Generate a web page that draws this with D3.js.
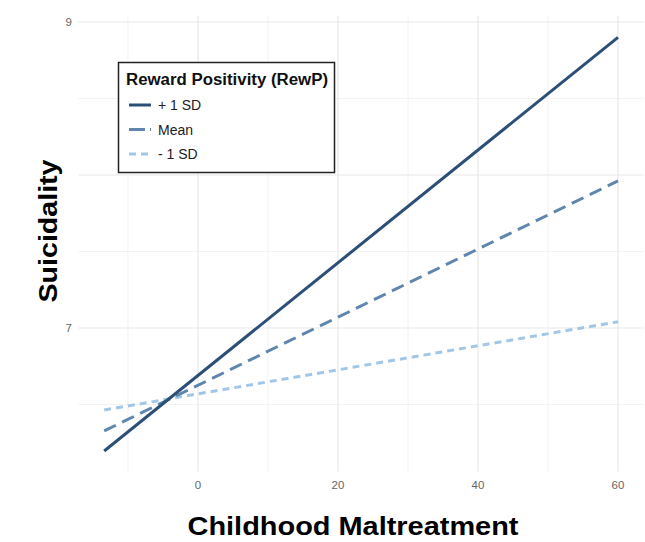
<!DOCTYPE html>
<html><head><meta charset="utf-8">
<script src="https://cdn.jsdelivr.net/npm/d3@7"></script>
<style>body{margin:0;background:#fff}svg{display:block}</style>
</head><body>
<script>
const xStart = [-13.4, -13.4, -13.4];
const xEnd = [60, 60, 60];
const seriesNames = ["+ 1 SD", "Mean", "- 1 SD"];
const yStart = [6.196, 6.327, 6.464];
const yEnd = [8.90, 7.961, 7.041];
const xTicks = [0, 20, 40, 60];
const xMinor = [-10, 10, 30, 50];
const yTicks = [7, 8, 9];
const yTickLabels = ["7", "", "9"];
const yMinor = [6.5, 7.5, 8.5];
const colors = ["#2c4f78", "#5f86ae", "#a2c7e6"];
const dashes = [null, "13,7", "7,5"];

const W = 645, H = 542;
const FONT = "Liberation Sans, Arial, sans-serif";
const svg = d3.select("body").append("svg").attr("width", W).attr("height", H);
const x = d3.scaleLinear().domain([-17.07, 63.67]).range([78.5, 643.7]);
const y = d3.scaleLinear().domain([6.06, 9.04]).range([471.8, 15.9]);

const g = svg.append("g");
// grid
g.selectAll(".vmin").data(xMinor).enter().append("line")
  .attr("x1", d => x(d)).attr("x2", d => x(d)).attr("y1", y.range()[1]).attr("y2", y.range()[0])
  .attr("stroke", "#f2f2f2").attr("stroke-width", 1);
g.selectAll(".hmin").data(yMinor).enter().append("line")
  .attr("y1", d => y(d)).attr("y2", d => y(d)).attr("x1", x.range()[0]).attr("x2", x.range()[1])
  .attr("stroke", "#f2f2f2").attr("stroke-width", 1);
g.selectAll(".vmaj").data(xTicks).enter().append("line")
  .attr("x1", d => x(d)).attr("x2", d => x(d)).attr("y1", y.range()[1]).attr("y2", y.range()[0])
  .attr("stroke", "#e8e8e8").attr("stroke-width", 1.2);
g.selectAll(".hmaj").data(yTicks).enter().append("line")
  .attr("y1", d => y(d)).attr("y2", d => y(d)).attr("x1", x.range()[0]).attr("x2", x.range()[1])
  .attr("stroke", "#e8e8e8").attr("stroke-width", 1.2);

// tick labels
g.selectAll(".xl").data(xTicks).enter().append("text")
  .attr("x", d => x(d)).attr("y", 489).attr("text-anchor", "middle")
  .attr("font-family", FONT).attr("font-size", 11.5).attr("fill", "#666")
  .text(d => d);
g.selectAll(".yl").data(yTicks).enter().append("text")
  .attr("x", 72).attr("y", d => y(d) + 4).attr("text-anchor", "end")
  .attr("font-family", FONT).attr("font-size", 11.5).attr("fill", "#666")
  .text((d, i) => yTickLabels[i]);

// lines
const idx = [2, 1, 0];
idx.forEach(i => {
  g.append("line")
    .attr("x1", x(xStart[i])).attr("y1", y(yStart[i]))
    .attr("x2", x(xEnd[i])).attr("y2", y(yEnd[i]))
    .attr("stroke", colors[i]).attr("stroke-width", 3)
    .attr("stroke-dasharray", dashes[i]);
});

// axis titles
svg.append("text").attr("x", 353).attr("y", 535).attr("text-anchor", "middle")
  .attr("font-family", FONT).attr("font-weight", "bold")
  .attr("font-size", 25).attr("fill", "#000")
  .attr("textLength", 331).attr("lengthAdjust", "spacingAndGlyphs")
  .text("Childhood Maltreatment");
svg.append("text").attr("transform", "translate(57,231) rotate(-90)").attr("text-anchor", "middle")
  .attr("font-family", FONT).attr("font-weight", "bold")
  .attr("font-size", 26).attr("fill", "#000")
  .attr("textLength", 143).attr("lengthAdjust", "spacingAndGlyphs")
  .text("Suicidality");

// legend
const lg = svg.append("g");
lg.append("rect").attr("x", 118.5).attr("y", 62.5).attr("width", 216).attr("height", 110)
  .attr("fill", "#fff").attr("stroke", "#222").attr("stroke-width", 1.5);
lg.append("text").attr("x", 126).attr("y", 84.5)
  .attr("font-family", FONT).attr("font-weight", "bold")
  .attr("font-size", 16).attr("fill", "#111")
  .attr("textLength", 202).attr("lengthAdjust", "spacingAndGlyphs")
  .text("Reward Positivity (RewP)");
seriesNames.forEach((n, i) => {
  const yy = 105 + i * 24.5;
  lg.append("line").attr("x1", 129).attr("x2", 151).attr("y1", yy).attr("y2", yy)
    .attr("stroke", colors[i]).attr("stroke-width", 3)
    .attr("stroke-dasharray", i === 0 ? null : (i === 1 ? "16,5,3,5" : "7,5"));
  lg.append("text").attr("x", 158).attr("y", yy + 5)
    .attr("font-family", FONT).attr("font-size", 14)
    .attr("fill", "#222").text(n);
});
</script>
</body></html>
